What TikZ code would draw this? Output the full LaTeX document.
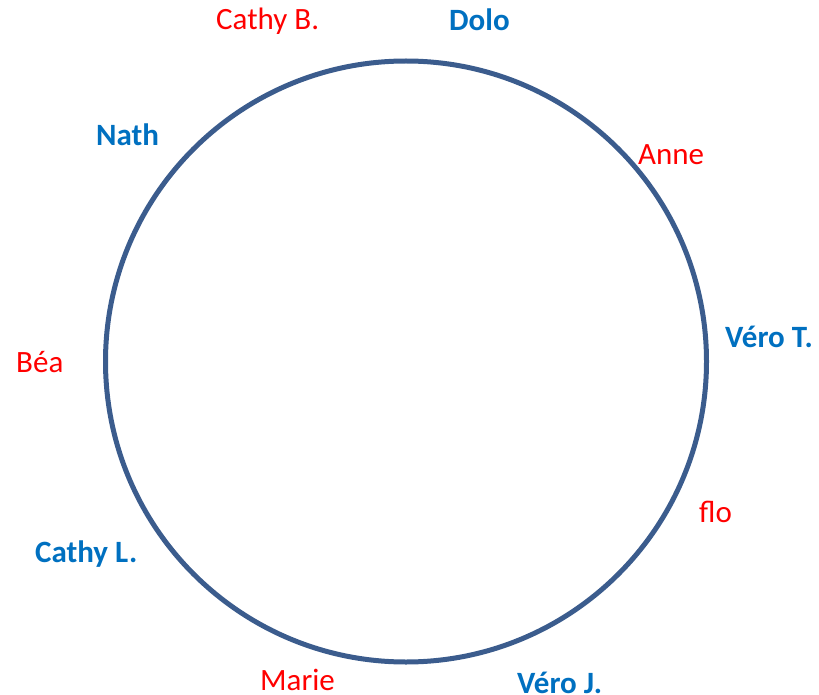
\documentclass[tikz,border=0pt]{standalone}
\usepackage{fontspec}
\setmainfont{Carlito}
\definecolor{ringblue}{HTML}{3B5C8D}
\definecolor{lblblue}{HTML}{0070C0}
\definecolor{lblred}{HTML}{FF0000}
\tikzset{
  ring/.style={draw=ringblue, line width=5pt},
  redlbl/.style={anchor=base west, inner sep=0pt, text=lblred, font=\fontsize{31}{31}\selectfont},
  bluelbl/.style={anchor=base west, inner sep=0pt, text=lblblue, font=\fontsize{31}{31}\selectfont\bfseries},
}
\begin{document}
\begin{tikzpicture}[x=1pt,y=1pt]
\useasboundingbox (0,0) rectangle (819,-695);
\node[ring, circle, minimum size=601pt, inner sep=0pt] (c) at (406,-361.5) {};
\node[redlbl] (cathyb) at (216,-30) {Cathy B.};
\node[bluelbl] (dolo) at (449,-31) {Dolo};
\node[bluelbl] (nath) at (96,-146) {Nath};
\node[redlbl] (anne) at (638,-165) {Anne};
\node[bluelbl] (verot) at (725,-347) {Véro T.};
\node[redlbl] (bea) at (16,-372) {Béa};
\node[redlbl] (flo) at (699,-522) {flo};
\node[bluelbl] (cathyl) at (35,-562) {Cathy L.};
\node[redlbl] (marie) at (260,-690) {Marie};
\node[bluelbl] (veroj) at (517,-693) {Véro J.};
\end{tikzpicture}
\end{document}
